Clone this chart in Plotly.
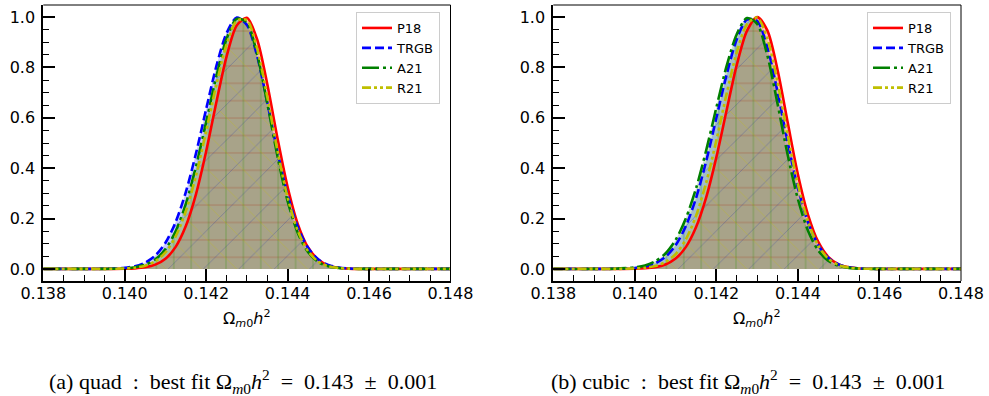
import plotly.graph_objects as go

# ---------------- data ----------------
x_vals = [0.1380, 0.1390, 0.1395,
          0.14000, 0.14025, 0.14050, 0.14075, 0.14100, 0.14125, 0.14150, 0.14175,
          0.14200, 0.14225, 0.14250, 0.14275, 0.14300, 0.14325, 0.14350, 0.14375,
          0.14400, 0.14425, 0.14450, 0.14475, 0.14500, 0.14525, 0.14550, 0.14575,
          0.14600, 0.1465, 0.1470, 0.1480]

series_names = ["P18", "TRGB", "A21", "R21"]

# panel (a) quad
quad_P18 = [0, 0, 0.0, 0.0007, 0.0021, 0.0063, 0.0169, 0.0405, 0.0874, 0.170, 0.297,
            0.467, 0.662, 0.843, 0.967, 0.997, 0.912, 0.734, 0.520, 0.325, 0.178,
            0.086, 0.037, 0.0137, 0.0045, 0.0013, 0.0003, 0.0001, 0, 0, 0]
quad_TRGB = [0, 0, 0.0005, 0.0042, 0.0107, 0.0249, 0.0530, 0.1036, 0.186, 0.305, 0.459,
             0.635, 0.805, 0.936, 0.998, 0.969, 0.846, 0.662, 0.465, 0.293, 0.166,
             0.084, 0.0385, 0.0157, 0.0058, 0.0019, 0.0006, 0.0002, 0, 0, 0]
quad_A21 = [0, 0, 0.0002, 0.0024, 0.0066, 0.0165, 0.0377, 0.0785, 0.149, 0.258, 0.407,
            0.584, 0.765, 0.913, 0.993, 0.978, 0.853, 0.658, 0.448, 0.269, 0.143,
            0.067, 0.0278, 0.0102, 0.0033, 0.0010, 0.0002, 0.0, 0, 0, 0]
quad_R21 = [0, 0, 0.0002, 0.0017, 0.0049, 0.0129, 0.0305, 0.0657, 0.129, 0.229, 0.371,
            0.547, 0.732, 0.891, 0.985, 0.988, 0.876, 0.684, 0.470, 0.284, 0.152,
            0.071, 0.0293, 0.0106, 0.0034, 0.0010, 0.0002, 0.0, 0, 0, 0]

# panel (b) cubic
cubic_P18 = [0, 0, 0.0001, 0.0008, 0.0025, 0.0070, 0.0178, 0.0413, 0.0865, 0.165, 0.284,
             0.444, 0.629, 0.810, 0.945, 1.000, 0.947, 0.791, 0.581, 0.375, 0.214,
             0.107, 0.047, 0.0183, 0.0063, 0.0019, 0.0005, 0.0001, 0, 0, 0]
cubic_TRGB = [0, 0, 0.0005, 0.0038, 0.0096, 0.0224, 0.0479, 0.094, 0.170, 0.281, 0.428,
              0.600, 0.771, 0.912, 0.990, 0.985, 0.880, 0.703, 0.502, 0.321, 0.184,
              0.094, 0.043, 0.0177, 0.0065, 0.0021, 0.0006, 0.0002, 0, 0, 0]
cubic_A21 = [0, 0, 0.0008, 0.0057, 0.0136, 0.0300, 0.0612, 0.115, 0.200, 0.319, 0.471,
             0.641, 0.805, 0.932, 0.996, 0.973, 0.848, 0.656, 0.452, 0.277, 0.151,
             0.073, 0.0315, 0.0121, 0.0041, 0.0012, 0.0003, 0.0001, 0, 0, 0]
cubic_R21 = [0, 0, 0.0001, 0.0016, 0.0044, 0.0115, 0.0273, 0.0591, 0.117, 0.210, 0.343,
             0.511, 0.695, 0.860, 0.971, 0.998, 0.915, 0.741, 0.530, 0.335, 0.187,
             0.092, 0.040, 0.0155, 0.0053, 0.0016, 0.0004, 0.0001, 0, 0, 0]

x_tick_vals = [0.138, 0.140, 0.142, 0.144, 0.146, 0.148]
x_tick_text = ["0.138", "0.140", "0.142", "0.144", "0.146", "0.148"]
y_tick_vals = [0.0, 0.2, 0.4, 0.6, 0.8, 1.0]
y_tick_text = ["0.0", "0.2", "0.4", "0.6", "0.8", "1.0"]

sp = "&nbsp;"
captions = [f"(a) quad{sp} :{sp} best fit Ω<sub><i>m</i>0</sub><i>h</i><sup>2</sup>{sp} ={sp} 0.143{sp} ±{sp} 0.001",
            f"(b) cubic{sp} :{sp} best fit Ω<sub><i>m</i>0</sub><i>h</i><sup>2</sup>{sp} ={sp} 0.143{sp} ±{sp} 0.001"]
x_title = "Ω<sub><i>m</i>0</sub><i>h</i><sup>2</sup>"

# ---------------- styles ----------------
W, H = 989, 396
line_colors = ["#ff0000", "#0000ff", "#008000", "#bfbf00"]
rgb = ["255,0,0", "0,0,255", "0,128,0", "191,191,0"]
dashes = ["solid", "9px,4px", "17px,4px,3px,4px", "9px,3px,3px,3px,3px,3px"]
hatches = [("-", 17.4, 0.07, 0.3), ("/", 25, 0.035, 0.35),
           ("|", 17.4, 0.07, 0.3), ("\\", 25, 0.035, 0.35)]

panels = [
    dict(ys=[quad_P18, quad_TRGB, quad_A21, quad_R21], xd=(43.3 / W, 450.5 / W), legend="legend"),
    dict(ys=[cubic_P18, cubic_TRGB, cubic_A21, cubic_R21], xd=(553.3 / W, 961 / W), legend="legend2"),
]
ydom = (1 - 281 / H, 1 - 5 / H)

fig = go.Figure()
for p, panel in enumerate(panels):
    xa = "x" if p == 0 else "x2"
    ya = "y" if p == 0 else "y2"
    # hatched, translucent fills
    for i, name in enumerate(series_names):
        shp, sz, sol, fgo = hatches[i]
        fig.add_trace(go.Scatter(
            x=x_vals, y=panel["ys"][i], name=name, mode="lines", showlegend=False, hoverinfo="skip",
            xaxis=xa, yaxis=ya,
            line=dict(color=line_colors[i], width=0, shape="spline", smoothing=0.8),
            fill="tozeroy", fillcolor=f"rgba({rgb[i]},0.2)",
            fillpattern=dict(shape=shp, size=sz, solidity=sol, fgcolor=line_colors[i],
                             fgopacity=fgo, bgcolor=f"rgba({rgb[i]},0.2)", fillmode="replace"),
        ))
    # curves
    for i, name in enumerate(series_names):
        fig.add_trace(go.Scatter(
            x=x_vals, y=panel["ys"][i], name=name, mode="lines",
            xaxis=xa, yaxis=ya, legend=panel["legend"],
            line=dict(color=line_colors[i], width=2.6, dash=dashes[i], shape="spline", smoothing=0.8),
        ))

axis_common = dict(showgrid=False, zeroline=False, showline=True, linecolor="black", linewidth=2,
                   ticks="inside", ticklen=12, tickwidth=1.6, tickcolor="black", automargin=False,
                   tickfont=dict(family="DejaVu Sans", size=16, color="black"), mirror=False)

layout = dict(width=W, height=H, margin=dict(l=0, r=0, t=0, b=0, autoexpand=False),
              paper_bgcolor="white", plot_bgcolor="white", font=dict(family="DejaVu Sans", color="black"))
for p, panel in enumerate(panels):
    sx = "" if p == 0 else "2"
    layout["xaxis" + sx] = dict(axis_common, domain=list(panel["xd"]), range=[0.138, 0.148],
                               tickvals=x_tick_vals, ticktext=x_tick_text, anchor="y" + sx,
                               ticklabelstandoff=-3,
                               minor=dict(ticks="inside", dtick=0.0005, ticklen=6, tickwidth=1.2, tickcolor="black"))
    layout["yaxis" + sx] = dict(axis_common, domain=list(ydom), range=[-0.048, 1.048],
                               tickvals=y_tick_vals, ticktext=y_tick_text, anchor="x" + sx,
                               ticklabelstandoff=3,
                               minor=dict(ticks="inside", dtick=0.05, tick0=0, ticklen=6, tickwidth=1.2, tickcolor="black"))
    leg_right = [440 / W, 951 / W][p]
    layout[panel["legend"]] = dict(x=leg_right, xanchor="right", y=1 - 12 / H, yanchor="top",
                                   bgcolor="rgba(255,255,255,0.8)", bordercolor="#cccccc", borderwidth=1,
                                   font=dict(family="DejaVu Sans", size=13, color="black"),
                                   itemwidth=30, tracegroupgap=0)
fig.update_layout(**layout)

shapes = []
annotations = []
for p, panel in enumerate(panels):
    sx = "" if p == 0 else "2"
    shapes.append(dict(type="line", xref=f"x{sx} domain", yref=f"y{sx} domain", x0=0, x1=1, y0=1, y1=1,
                       line=dict(color="black", width=1)))
    shapes.append(dict(type="line", xref=f"x{sx} domain", yref=f"y{sx} domain", x0=1, x1=1, y0=0, y1=1,
                       line=dict(color="black", width=1)))
    xc = (panel["xd"][0] + panel["xd"][1]) / 2
    annotations.append(dict(text=x_title, x=xc, y=1 - 318 / H, xref="paper", yref="paper",
                            xanchor="center", yanchor="middle", showarrow=False,
                            font=dict(family="DejaVu Sans", size=16, color="black")))
    annotations.append(dict(text=captions[p], x=[243 / W, 748 / W][p], y=1 - 381 / H,
                            xref="paper", yref="paper", xanchor="center", yanchor="middle",
                            showarrow=False, font=dict(family="Liberation Serif", size=22, color="black")))
fig.update_layout(shapes=shapes, annotations=annotations)

fig.write_html("out.html", config={"displayModeBar": False},
               post_script="document.body.style.margin='0px';document.body.style.padding='0px';")
